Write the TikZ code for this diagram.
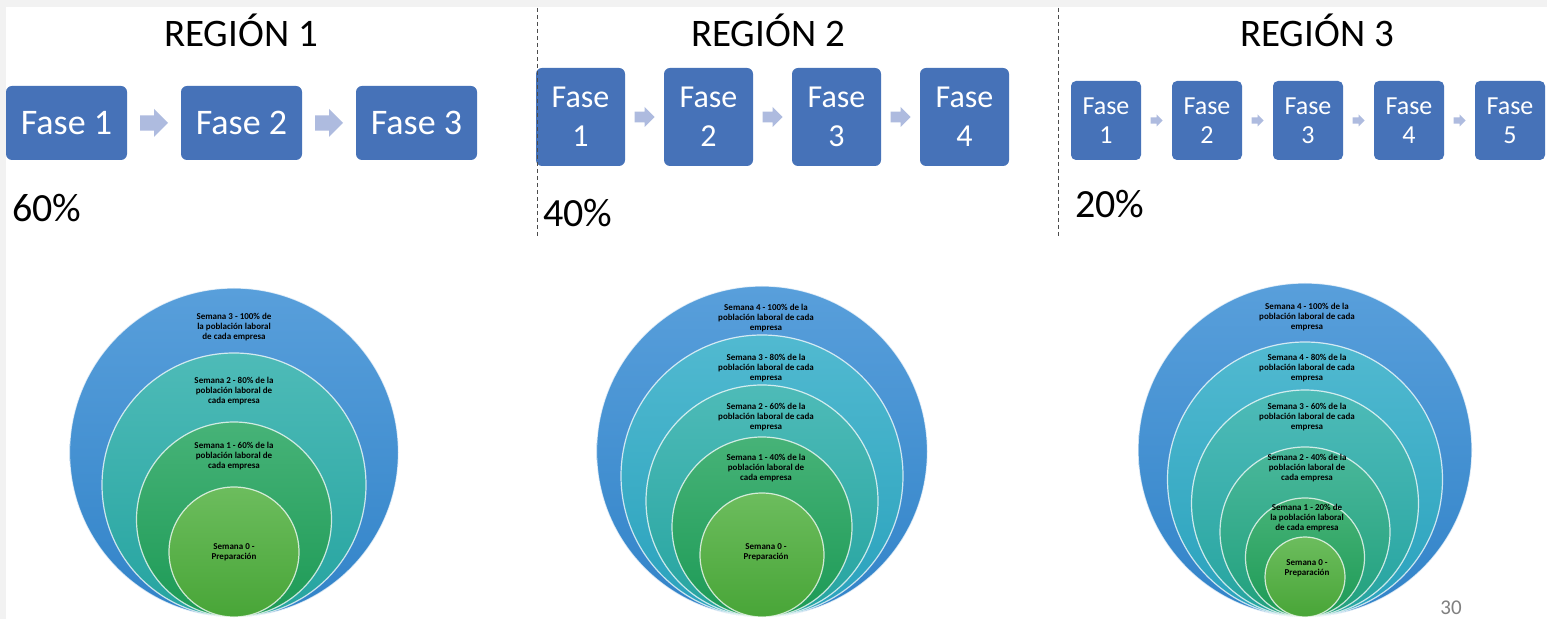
\documentclass[tikz,border=0pt]{standalone}
\usepackage{fontspec}
\setmainfont{Carlito}
\usetikzlibrary{positioning, calc}
\definecolor{faseazul}{HTML}{4672B8}
\definecolor{flechalila}{HTML}{AEBBDF}
\definecolor{azul}{HTML}{348AD3}
\definecolor{cian}{HTML}{2BAAC6}
\definecolor{turquesa}{HTML}{27ACA8}
\definecolor{verdeazul}{HTML}{22A884}
\definecolor{verde}{HTML}{1EA25A}
\definecolor{verdeclaro}{HTML}{4CAE3A}
\tikzset{
    fase/.style={fill=faseazul, text=white, align=center, inner sep=0pt, outer sep=0pt}, % boxes of the phases
    faseA/.style={fase, rounded corners=3pt, minimum width=60.5pt, minimum height=37pt, font=\fontsize{18}{21}\selectfont},
    faseB/.style={fase, rounded corners=3pt, minimum width=44.5pt, minimum height=49pt, font=\fontsize{16}{19.5}\selectfont},
    faseC/.style={fase, rounded corners=2.5pt, minimum width=35pt, minimum height=39.5pt, font=\fontsize{13}{14.5}\selectfont},
    titulo/.style={inner sep=0pt, font=\fontsize{19.5}{22}\selectfont},
    porcentaje/.style={inner sep=0pt, font=\fontsize{20}{22}\selectfont},
    semana/.style={inner sep=0pt, align=center, font=\fontsize{4.5}{5}\selectfont\bfseries}, % text inside the circles
    anillo/.style={draw=white, draw opacity=.75, line width=.6pt, top color=#1!82!white, bottom color=#1!95!black},
    separador/.style={draw=black!70, line width=.5pt, dash pattern=on 2pt off 1.5pt},
    flecha/.pic={\fill[flechalila] (-0.5,-0.27) -- (0,-0.27) -- (0,-0.5) -- (0.5,0) -- (0,0.5) -- (0,0.27) -- (-0.5,0.27) -- cycle;},
}
\begin{document}
\begin{tikzpicture}[x=0.5pt, y=0.5pt]
    \fill[black!5] (0,0) rectangle (1547,-619);
    \fill[white] (6,-7) rectangle (1547,-619);
    \useasboundingbox (0,0) rectangle (1547,-619);

    % region 1
    \node[titulo, anchor=base] (t1) at (241,-47) {REGIÓN 1};
    \node[faseA] (f11) at (66.5,-123) {Fase 1};
    \node[faseA, right=27pt of f11] (f12) {Fase 2};
    \node[faseA, right=27pt of f12] (f13) {Fase 3};
    \pic[scale=28] at ($(f11.east)!.5!(f12.west)$) {flecha};
    \pic[scale=28] at ($(f12.east)!.5!(f13.west)$) {flecha};
    \node[porcentaje, anchor=base west] (p1) at (12,-222) {60\%};

    % region 2
    \node[titulo, anchor=base] (t2) at (768,-47) {REGIÓN 2};
    \node[faseB] (f21) at (580.5,-117) {Fase\\1};
    \node[faseB, right=19.5pt of f21] (f22) {Fase\\2};
    \node[faseB, right=19.5pt of f22] (f23) {Fase\\3};
    \node[faseB, right=19.5pt of f23] (f24) {Fase\\4};
    \pic[scale=20] at ($(f21.east)!.5!(f22.west)$) {flecha};
    \pic[scale=20] at ($(f22.east)!.5!(f23.west)$) {flecha};
    \pic[scale=20] at ($(f23.east)!.5!(f24.west)$) {flecha};
    \node[porcentaje, anchor=base west] (p2) at (543,-227) {40\%};

    % region 3
    \node[titulo, anchor=base] (t3) at (1317,-47) {REGIÓN 3};
    \node[faseC] (f31) at (1106,-120.5) {Fase\\1};
    \node[faseC, right=15.5pt of f31] (f32) {Fase\\2};
    \node[faseC, right=15.5pt of f32] (f33) {Fase\\3};
    \node[faseC, right=15.5pt of f33] (f34) {Fase\\4};
    \node[faseC, right=15.5pt of f34] (f35) {Fase\\5};
    \foreach \a/\b in {f31/f32, f32/f33, f33/f34, f34/f35}
        \pic[scale=12] at ($(\a.east)!.5!(\b.west)$) {flecha};
    \node[porcentaje, anchor=base west] (p3) at (1075,-218) {20\%};

    \draw[separador] (537,-8) -- (537,-238);
    \draw[separador] (1058,-8) -- (1058,-236);

    % circles
    \foreach \r/\c in {164.5/azul, 132/turquesa, 97.5/verde, 65/verdeclaro}
        \path[anillo=\c] (234,{-617+\r}) circle[radius=\r];
    \foreach \r/\c in {165.5/azul, 141/cian, 116/turquesa, 90/verde, 62/verdeclaro}
        \path[anillo=\c] (762,{-617+\r}) circle[radius=\r];
    \foreach \r/\c in {167/azul, 137.5/cian, 113.5/turquesa, 85/verdeazul, 59.5/verde, 40/verdeclaro}
        \path[anillo=\c] (1305,{-617+\r}) circle[radius=\r];

    \node[semana] (s13) at (234,-327) {Semana 3 - 100\% de\\la población laboral\\de cada empresa};
    \node[semana] (s12) at (234,-391) {Semana 2 - 80\% de la\\población laboral de\\cada empresa};
    \node[semana] (s11) at (234,-456) {Semana 1 - 60\% de la\\población laboral de\\cada empresa};
    \node[semana] (s10) at (234,-552) {Semana 0 -\\Preparación};

    \node[semana] (s24) at (766,-318) {Semana 4 - 100\% de la\\población laboral de cada\\empresa};
    \node[semana] (s23) at (766,-368) {Semana 3 - 80\% de la\\población laboral de cada\\empresa};
    \node[semana] (s22) at (766,-417) {Semana 2 - 60\% de la\\población laboral de cada\\empresa};
    \node[semana] (s21) at (766,-468) {Semana 1 - 40\% de la\\población laboral de\\cada empresa};
    \node[semana] (s20) at (766,-552) {Semana 0 -\\Preparación};

    \node[semana] (s35) at (1307,-317) {Semana 4 - 100\% de la\\población laboral de cada\\empresa};
    \node[semana] (s34) at (1307,-368) {Semana 4 - 80\% de la\\población laboral de cada\\empresa};
    \node[semana] (s33) at (1307,-417) {Semana 3 - 60\% de la\\población laboral de cada\\empresa};
    \node[semana] (s32) at (1307,-468) {Semana 2 - 40\% de la\\población laboral de\\cada empresa};
    \node[semana] (s31) at (1307,-518) {Semana 1 - 20\% de\\la población laboral\\de cada empresa};
    \node[semana] (s30) at (1307,-568) {Semana 0 -\\Preparación};

    \node[anchor=base west, inner sep=0pt, text=black!50, font=\fontsize{10.5}{12}\selectfont] (pag) at (1440,-615) {30};
\end{tikzpicture}
\end{document}
